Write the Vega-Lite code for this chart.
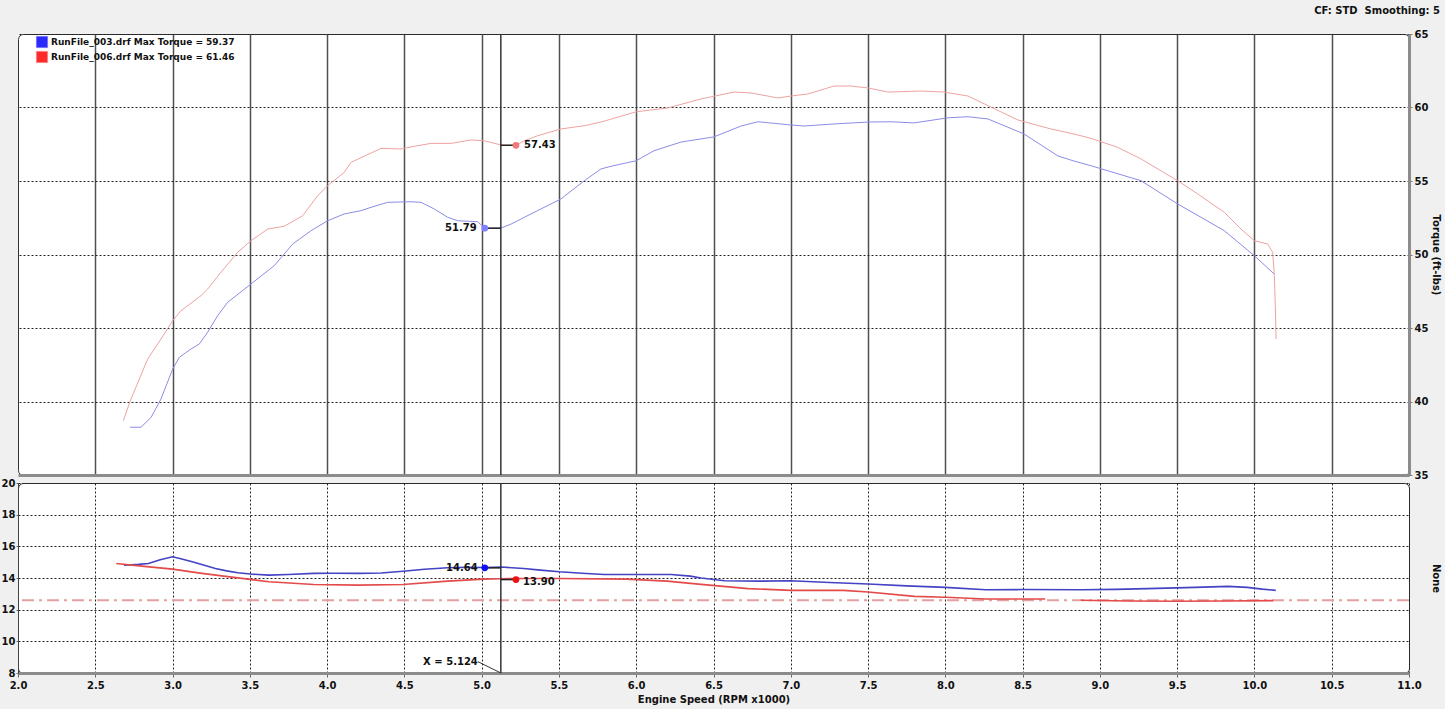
{
  "$schema": "https://vega.github.io/schema/vega-lite/v6.json",
  "background": "#f0f0f0",
  "padding": {"left": 0, "top": 5, "right": 4, "bottom": 4},
  "spacing": 8,
  "bounds": "flush",
  "config": {
    "font": "DejaVu Sans",
    "view": {"fill": "white", "stroke": "#333333", "strokeWidth": 1, "cornerRadius": 5},
    "axis": {"labelFlush": false, "labelFont": "DejaVu Sans", "labelFontWeight": "bold", "labelFontSize": 10, "labelColor": "#111111", "titleFont": "DejaVu Sans", "titleFontWeight": "bold", "titleFontSize": 10, "titleColor": "#111111"}
  },
  "resolve": {"scale": {"color": "independent"}, "legend": {"color": "independent"}},
  "datasets": {
    "torque": [
      {"run": "RunFile_003.drf Max Torque = 59.37", "rpm": 2.725, "tq": 38.25},
      {"run": "RunFile_003.drf Max Torque = 59.37", "rpm": 2.796, "tq": 38.25},
      {"run": "RunFile_003.drf Max Torque = 59.37", "rpm": 2.861, "tq": 38.92},
      {"run": "RunFile_003.drf Max Torque = 59.37", "rpm": 2.925, "tq": 40.17},
      {"run": "RunFile_003.drf Max Torque = 59.37", "rpm": 3.001, "tq": 42.21},
      {"run": "RunFile_003.drf Max Torque = 59.37", "rpm": 3.044, "tq": 43.01},
      {"run": "RunFile_003.drf Max Torque = 59.37", "rpm": 3.119, "tq": 43.57},
      {"run": "RunFile_003.drf Max Torque = 59.37", "rpm": 3.173, "tq": 43.91},
      {"run": "RunFile_003.drf Max Torque = 59.37", "rpm": 3.227, "tq": 44.71},
      {"run": "RunFile_003.drf Max Torque = 59.37", "rpm": 3.292, "tq": 45.84},
      {"run": "RunFile_003.drf Max Torque = 59.37", "rpm": 3.357, "tq": 46.75},
      {"run": "RunFile_003.drf Max Torque = 59.37", "rpm": 3.508, "tq": 48.0},
      {"run": "RunFile_003.drf Max Torque = 59.37", "rpm": 3.658, "tq": 49.24},
      {"run": "RunFile_003.drf Max Torque = 59.37", "rpm": 3.777, "tq": 50.71},
      {"run": "RunFile_003.drf Max Torque = 59.37", "rpm": 3.896, "tq": 51.62},
      {"run": "RunFile_003.drf Max Torque = 59.37", "rpm": 4.004, "tq": 52.3},
      {"run": "RunFile_003.drf Max Torque = 59.37", "rpm": 4.111, "tq": 52.76},
      {"run": "RunFile_003.drf Max Torque = 59.37", "rpm": 4.219, "tq": 52.98},
      {"run": "RunFile_003.drf Max Torque = 59.37", "rpm": 4.284, "tq": 53.21},
      {"run": "RunFile_003.drf Max Torque = 59.37", "rpm": 4.392, "tq": 53.55},
      {"run": "RunFile_003.drf Max Torque = 59.37", "rpm": 4.543, "tq": 53.59},
      {"run": "RunFile_003.drf Max Torque = 59.37", "rpm": 4.607, "tq": 53.55},
      {"run": "RunFile_003.drf Max Torque = 59.37", "rpm": 4.693, "tq": 53.1},
      {"run": "RunFile_003.drf Max Torque = 59.37", "rpm": 4.78, "tq": 52.53},
      {"run": "RunFile_003.drf Max Torque = 59.37", "rpm": 4.845, "tq": 52.3},
      {"run": "RunFile_003.drf Max Torque = 59.37", "rpm": 4.974, "tq": 52.23},
      {"run": "RunFile_003.drf Max Torque = 59.37", "rpm": 5.02, "tq": 51.79},
      {"run": "RunFile_003.drf Max Torque = 59.37", "rpm": 5.125, "tq": 51.8},
      {"run": "RunFile_003.drf Max Torque = 59.37", "rpm": 5.19, "tq": 52.07},
      {"run": "RunFile_003.drf Max Torque = 59.37", "rpm": 5.319, "tq": 52.76},
      {"run": "RunFile_003.drf Max Torque = 59.37", "rpm": 5.513, "tq": 53.78},
      {"run": "RunFile_003.drf Max Torque = 59.37", "rpm": 5.664, "tq": 55.02},
      {"run": "RunFile_003.drf Max Torque = 59.37", "rpm": 5.772, "tq": 55.82},
      {"run": "RunFile_003.drf Max Torque = 59.37", "rpm": 5.837, "tq": 56.0},
      {"run": "RunFile_003.drf Max Torque = 59.37", "rpm": 6.0, "tq": 56.38},
      {"run": "RunFile_003.drf Max Torque = 59.37", "rpm": 6.115, "tq": 57.06},
      {"run": "RunFile_003.drf Max Torque = 59.37", "rpm": 6.29, "tq": 57.65},
      {"run": "RunFile_003.drf Max Torque = 59.37", "rpm": 6.503, "tq": 58.0},
      {"run": "RunFile_003.drf Max Torque = 59.37", "rpm": 6.678, "tq": 58.74},
      {"run": "RunFile_003.drf Max Torque = 59.37", "rpm": 6.788, "tq": 59.03},
      {"run": "RunFile_003.drf Max Torque = 59.37", "rpm": 7.0, "tq": 58.81},
      {"run": "RunFile_003.drf Max Torque = 59.37", "rpm": 7.085, "tq": 58.74},
      {"run": "RunFile_003.drf Max Torque = 59.37", "rpm": 7.28, "tq": 58.88},
      {"run": "RunFile_003.drf Max Torque = 59.37", "rpm": 7.5, "tq": 59.01},
      {"run": "RunFile_003.drf Max Torque = 59.37", "rpm": 7.648, "tq": 59.03},
      {"run": "RunFile_003.drf Max Torque = 59.37", "rpm": 7.797, "tq": 58.95},
      {"run": "RunFile_003.drf Max Torque = 59.37", "rpm": 8.017, "tq": 59.3},
      {"run": "RunFile_003.drf Max Torque = 59.37", "rpm": 8.147, "tq": 59.37},
      {"run": "RunFile_003.drf Max Torque = 59.37", "rpm": 8.276, "tq": 59.22},
      {"run": "RunFile_003.drf Max Torque = 59.37", "rpm": 8.509, "tq": 58.2},
      {"run": "RunFile_003.drf Max Torque = 59.37", "rpm": 8.729, "tq": 56.7},
      {"run": "RunFile_003.drf Max Torque = 59.37", "rpm": 8.832, "tq": 56.36},
      {"run": "RunFile_003.drf Max Torque = 59.37", "rpm": 8.942, "tq": 56.04},
      {"run": "RunFile_003.drf Max Torque = 59.37", "rpm": 9.266, "tq": 55.02},
      {"run": "RunFile_003.drf Max Torque = 59.37", "rpm": 9.503, "tq": 53.44},
      {"run": "RunFile_003.drf Max Torque = 59.37", "rpm": 9.805, "tq": 51.62},
      {"run": "RunFile_003.drf Max Torque = 59.37", "rpm": 9.999, "tq": 49.92},
      {"run": "RunFile_003.drf Max Torque = 59.37", "rpm": 10.128, "tq": 48.67},
      {"run": "RunFile_006.drf Max Torque = 61.46", "rpm": 2.681, "tq": 38.69},
      {"run": "RunFile_006.drf Max Torque = 61.46", "rpm": 2.731, "tq": 40.17},
      {"run": "RunFile_006.drf Max Torque = 61.46", "rpm": 2.785, "tq": 41.53},
      {"run": "RunFile_006.drf Max Torque = 61.46", "rpm": 2.839, "tq": 42.89},
      {"run": "RunFile_006.drf Max Torque = 61.46", "rpm": 2.925, "tq": 44.25},
      {"run": "RunFile_006.drf Max Torque = 61.46", "rpm": 3.001, "tq": 45.5},
      {"run": "RunFile_006.drf Max Torque = 61.46", "rpm": 3.055, "tq": 46.18},
      {"run": "RunFile_006.drf Max Torque = 61.46", "rpm": 3.184, "tq": 47.2},
      {"run": "RunFile_006.drf Max Torque = 61.46", "rpm": 3.227, "tq": 47.65},
      {"run": "RunFile_006.drf Max Torque = 61.46", "rpm": 3.313, "tq": 48.79},
      {"run": "RunFile_006.drf Max Torque = 61.46", "rpm": 3.421, "tq": 50.15},
      {"run": "RunFile_006.drf Max Torque = 61.46", "rpm": 3.508, "tq": 50.94},
      {"run": "RunFile_006.drf Max Torque = 61.46", "rpm": 3.616, "tq": 51.73},
      {"run": "RunFile_006.drf Max Torque = 61.46", "rpm": 3.723, "tq": 51.92},
      {"run": "RunFile_006.drf Max Torque = 61.46", "rpm": 3.842, "tq": 52.64},
      {"run": "RunFile_006.drf Max Torque = 61.46", "rpm": 3.939, "tq": 54.0},
      {"run": "RunFile_006.drf Max Torque = 61.46", "rpm": 4.004, "tq": 54.68},
      {"run": "RunFile_006.drf Max Torque = 61.46", "rpm": 4.111, "tq": 55.59},
      {"run": "RunFile_006.drf Max Torque = 61.46", "rpm": 4.155, "tq": 56.27},
      {"run": "RunFile_006.drf Max Torque = 61.46", "rpm": 4.349, "tq": 57.22},
      {"run": "RunFile_006.drf Max Torque = 61.46", "rpm": 4.478, "tq": 57.18},
      {"run": "RunFile_006.drf Max Torque = 61.46", "rpm": 4.564, "tq": 57.36},
      {"run": "RunFile_006.drf Max Torque = 61.46", "rpm": 4.672, "tq": 57.56},
      {"run": "RunFile_006.drf Max Torque = 61.46", "rpm": 4.802, "tq": 57.56},
      {"run": "RunFile_006.drf Max Torque = 61.46", "rpm": 4.931, "tq": 57.79},
      {"run": "RunFile_006.drf Max Torque = 61.46", "rpm": 5.017, "tq": 57.74},
      {"run": "RunFile_006.drf Max Torque = 61.46", "rpm": 5.125, "tq": 57.45},
      {"run": "RunFile_006.drf Max Torque = 61.46", "rpm": 5.222, "tq": 57.43},
      {"run": "RunFile_006.drf Max Torque = 61.46", "rpm": 5.276, "tq": 57.74},
      {"run": "RunFile_006.drf Max Torque = 61.46", "rpm": 5.362, "tq": 58.08},
      {"run": "RunFile_006.drf Max Torque = 61.46", "rpm": 5.513, "tq": 58.54},
      {"run": "RunFile_006.drf Max Torque = 61.46", "rpm": 5.664, "tq": 58.76},
      {"run": "RunFile_006.drf Max Torque = 61.46", "rpm": 5.772, "tq": 59.01},
      {"run": "RunFile_006.drf Max Torque = 61.46", "rpm": 6.0, "tq": 59.71},
      {"run": "RunFile_006.drf Max Torque = 61.46", "rpm": 6.205, "tq": 59.97},
      {"run": "RunFile_006.drf Max Torque = 61.46", "rpm": 6.419, "tq": 60.58},
      {"run": "RunFile_006.drf Max Torque = 61.46", "rpm": 6.633, "tq": 61.05},
      {"run": "RunFile_006.drf Max Torque = 61.46", "rpm": 6.742, "tq": 60.99},
      {"run": "RunFile_006.drf Max Torque = 61.46", "rpm": 6.917, "tq": 60.65},
      {"run": "RunFile_006.drf Max Torque = 61.46", "rpm": 7.0, "tq": 60.78},
      {"run": "RunFile_006.drf Max Torque = 61.46", "rpm": 7.111, "tq": 60.92},
      {"run": "RunFile_006.drf Max Torque = 61.46", "rpm": 7.28, "tq": 61.46},
      {"run": "RunFile_006.drf Max Torque = 61.46", "rpm": 7.39, "tq": 61.46},
      {"run": "RunFile_006.drf Max Torque = 61.46", "rpm": 7.5, "tq": 61.33},
      {"run": "RunFile_006.drf Max Torque = 61.46", "rpm": 7.629, "tq": 61.05},
      {"run": "RunFile_006.drf Max Torque = 61.46", "rpm": 7.842, "tq": 61.12},
      {"run": "RunFile_006.drf Max Torque = 61.46", "rpm": 7.991, "tq": 61.05},
      {"run": "RunFile_006.drf Max Torque = 61.46", "rpm": 8.147, "tq": 60.78},
      {"run": "RunFile_006.drf Max Torque = 61.46", "rpm": 8.295, "tq": 60.03},
      {"run": "RunFile_006.drf Max Torque = 61.46", "rpm": 8.47, "tq": 59.15},
      {"run": "RunFile_006.drf Max Torque = 61.46", "rpm": 8.683, "tq": 58.54},
      {"run": "RunFile_006.drf Max Torque = 61.46", "rpm": 8.832, "tq": 58.2},
      {"run": "RunFile_006.drf Max Torque = 61.46", "rpm": 8.942, "tq": 57.9},
      {"run": "RunFile_006.drf Max Torque = 61.46", "rpm": 9.115, "tq": 57.29},
      {"run": "RunFile_006.drf Max Torque = 61.46", "rpm": 9.266, "tq": 56.5},
      {"run": "RunFile_006.drf Max Torque = 61.46", "rpm": 9.503, "tq": 55.02},
      {"run": "RunFile_006.drf Max Torque = 61.46", "rpm": 9.633, "tq": 54.12},
      {"run": "RunFile_006.drf Max Torque = 61.46", "rpm": 9.805, "tq": 52.87},
      {"run": "RunFile_006.drf Max Torque = 61.46", "rpm": 9.913, "tq": 51.73},
      {"run": "RunFile_006.drf Max Torque = 61.46", "rpm": 9.999, "tq": 50.94},
      {"run": "RunFile_006.drf Max Torque = 61.46", "rpm": 10.086, "tq": 50.71},
      {"run": "RunFile_006.drf Max Torque = 61.46", "rpm": 10.118, "tq": 50.15},
      {"run": "RunFile_006.drf Max Torque = 61.46", "rpm": 10.129, "tq": 48.56},
      {"run": "RunFile_006.drf Max Torque = 61.46", "rpm": 10.135, "tq": 46.52},
      {"run": "RunFile_006.drf Max Torque = 61.46", "rpm": 10.14, "tq": 44.25}
    ],
    "afr": [
      {"run": "003", "seg": 1, "rpm": 2.685, "afr": 14.81},
      {"run": "003", "seg": 1, "rpm": 2.78, "afr": 14.86},
      {"run": "003", "seg": 1, "rpm": 2.844, "afr": 14.92},
      {"run": "003", "seg": 1, "rpm": 2.92, "afr": 15.15},
      {"run": "003", "seg": 1, "rpm": 3.0, "afr": 15.34},
      {"run": "003", "seg": 1, "rpm": 3.06, "afr": 15.2},
      {"run": "003", "seg": 1, "rpm": 3.127, "afr": 15.03},
      {"run": "003", "seg": 1, "rpm": 3.2, "afr": 14.82},
      {"run": "003", "seg": 1, "rpm": 3.277, "afr": 14.6},
      {"run": "003", "seg": 1, "rpm": 3.35, "afr": 14.45},
      {"run": "003", "seg": 1, "rpm": 3.422, "afr": 14.33},
      {"run": "003", "seg": 1, "rpm": 3.52, "afr": 14.24},
      {"run": "003", "seg": 1, "rpm": 3.624, "afr": 14.18},
      {"run": "003", "seg": 1, "rpm": 3.75, "afr": 14.22},
      {"run": "003", "seg": 1, "rpm": 3.913, "afr": 14.29},
      {"run": "003", "seg": 1, "rpm": 4.05, "afr": 14.3},
      {"run": "003", "seg": 1, "rpm": 4.202, "afr": 14.29},
      {"run": "003", "seg": 1, "rpm": 4.35, "afr": 14.32},
      {"run": "003", "seg": 1, "rpm": 4.491, "afr": 14.43},
      {"run": "003", "seg": 1, "rpm": 4.63, "afr": 14.55},
      {"run": "003", "seg": 1, "rpm": 4.78, "afr": 14.65},
      {"run": "003", "seg": 1, "rpm": 4.9, "afr": 14.68},
      {"run": "003", "seg": 1, "rpm": 5.02, "afr": 14.66},
      {"run": "003", "seg": 1, "rpm": 5.127, "afr": 14.69},
      {"run": "003", "seg": 1, "rpm": 5.272, "afr": 14.6},
      {"run": "003", "seg": 1, "rpm": 5.38, "afr": 14.5},
      {"run": "003", "seg": 1, "rpm": 5.503, "afr": 14.39},
      {"run": "003", "seg": 1, "rpm": 5.65, "afr": 14.3},
      {"run": "003", "seg": 1, "rpm": 5.792, "afr": 14.22},
      {"run": "003", "seg": 1, "rpm": 6.0, "afr": 14.22},
      {"run": "003", "seg": 1, "rpm": 6.225, "afr": 14.22},
      {"run": "003", "seg": 1, "rpm": 6.35, "afr": 14.12},
      {"run": "003", "seg": 1, "rpm": 6.42, "afr": 14.0},
      {"run": "003", "seg": 1, "rpm": 6.571, "afr": 13.83},
      {"run": "003", "seg": 1, "rpm": 6.8, "afr": 13.8},
      {"run": "003", "seg": 1, "rpm": 7.0, "afr": 13.83},
      {"run": "003", "seg": 1, "rpm": 7.25, "afr": 13.72},
      {"run": "003", "seg": 1, "rpm": 7.5, "afr": 13.62},
      {"run": "003", "seg": 1, "rpm": 7.75, "afr": 13.5},
      {"run": "003", "seg": 1, "rpm": 8.0, "afr": 13.41},
      {"run": "003", "seg": 1, "rpm": 8.262, "afr": 13.26},
      {"run": "003", "seg": 1, "rpm": 8.5, "afr": 13.27},
      {"run": "003", "seg": 1, "rpm": 8.877, "afr": 13.26},
      {"run": "003", "seg": 1, "rpm": 9.1, "afr": 13.28},
      {"run": "003", "seg": 1, "rpm": 9.307, "afr": 13.33},
      {"run": "003", "seg": 1, "rpm": 9.615, "afr": 13.41},
      {"run": "003", "seg": 1, "rpm": 9.83, "afr": 13.47},
      {"run": "003", "seg": 1, "rpm": 9.953, "afr": 13.41},
      {"run": "003", "seg": 1, "rpm": 10.05, "afr": 13.3},
      {"run": "003", "seg": 1, "rpm": 10.138, "afr": 13.22},
      {"run": "006", "seg": 1, "rpm": 2.636, "afr": 14.92},
      {"run": "006", "seg": 1, "rpm": 2.8, "afr": 14.75},
      {"run": "006", "seg": 1, "rpm": 3.0, "afr": 14.56},
      {"run": "006", "seg": 1, "rpm": 3.19, "afr": 14.29},
      {"run": "006", "seg": 1, "rpm": 3.422, "afr": 14.01},
      {"run": "006", "seg": 1, "rpm": 3.624, "afr": 13.76},
      {"run": "006", "seg": 1, "rpm": 3.913, "afr": 13.59},
      {"run": "006", "seg": 1, "rpm": 4.202, "afr": 13.55},
      {"run": "006", "seg": 1, "rpm": 4.491, "afr": 13.59},
      {"run": "006", "seg": 1, "rpm": 4.78, "afr": 13.8},
      {"run": "006", "seg": 1, "rpm": 5.012, "afr": 13.93},
      {"run": "006", "seg": 1, "rpm": 5.124, "afr": 13.95},
      {"run": "006", "seg": 1, "rpm": 5.228, "afr": 13.97},
      {"run": "006", "seg": 1, "rpm": 5.503, "afr": 13.97},
      {"run": "006", "seg": 1, "rpm": 5.936, "afr": 13.93},
      {"run": "006", "seg": 1, "rpm": 6.2, "afr": 13.8},
      {"run": "006", "seg": 1, "rpm": 6.42, "afr": 13.6},
      {"run": "006", "seg": 1, "rpm": 6.724, "afr": 13.33},
      {"run": "006", "seg": 1, "rpm": 7.0, "afr": 13.22},
      {"run": "006", "seg": 1, "rpm": 7.339, "afr": 13.22},
      {"run": "006", "seg": 1, "rpm": 7.5, "afr": 13.12},
      {"run": "006", "seg": 1, "rpm": 7.801, "afr": 12.84},
      {"run": "006", "seg": 1, "rpm": 8.0, "afr": 12.78},
      {"run": "006", "seg": 1, "rpm": 8.262, "afr": 12.67},
      {"run": "006", "seg": 1, "rpm": 8.646, "afr": 12.67},
      {"run": "006", "seg": 2, "rpm": 8.877, "afr": 12.59},
      {"run": "006", "seg": 2, "rpm": 9.2, "afr": 12.55},
      {"run": "006", "seg": 2, "rpm": 9.492, "afr": 12.53},
      {"run": "006", "seg": 2, "rpm": 9.8, "afr": 12.55},
      {"run": "006", "seg": 2, "rpm": 10.122, "afr": 12.57}
    ],
    "markers": [
      {"panel": "top", "run": "003", "rpm": 5.02, "value": 51.79, "label": "51.79", "cursor": 5.124},
      {"panel": "top", "run": "006", "rpm": 5.222, "value": 57.43, "label": "57.43", "cursor": 5.124},
      {"panel": "bottom", "run": "003", "rpm": 5.02, "value": 14.64, "label": "14.64", "cursor": 5.124},
      {"panel": "bottom", "run": "006", "rpm": 5.222, "value": 13.9, "label": "13.90", "cursor": 5.124}
    ],
    "cursor": [
      {"cursor": 5.124, "label": "X = 5.124", "lx": 4.975, "ly": 8.72, "lx2": 5.124, "ly2": 8.0, "tx": 4.975, "ty": 8.72}
    ],
    "ref": [
      {"afr": 12.6}
    ]
  },
  "vconcat": [
    {
      "width": 1391,
      "height": 441,
      "title": {"text": "CF: STD\u00a0 Smoothing: 5", "anchor": "end", "frame": "bounds", "fontSize": 10, "fontWeight": "bold", "font": "DejaVu Sans", "color": "#111111", "offset": 13},
      "layer": [
        {
          "data": {"name": "torque"},
          "mark": {"type": "line", "strokeWidth": 1},
          "encoding": {
            "x": {"field": "rpm", "type": "quantitative", "scale": {"domain": [2, 11], "nice": false, "zero": false},
              "axis": {"values": [2.5, 3, 3.5, 4, 4.5, 5, 5.5, 6, 6.5, 7, 7.5, 8, 8.5, 9, 9.5, 10, 10.5], "labels": false, "ticks": false, "domain": true, "domainColor": "#8c8c8c", "domainWidth": 3, "grid": true, "gridColor": "#505050", "gridWidth": 1.5, "gridOpacity": 1, "title": null, "minExtent": 0, "maxExtent": 0}},
            "y": {"field": "tq", "type": "quantitative", "scale": {"domain": [35, 65], "nice": false, "zero": false},
              "axis": {"orient": "right", "values": [35, 40, 45, 50, 55, 60, 65], "grid": true, "gridDash": [2, 2], "gridColor": "#222222", "gridOpacity": 1, "tickSize": 3, "tickColor": "#777777", "labelPadding": 2, "domain": true, "domainColor": "#8c8c8c", "domainWidth": 3, "title": "Torque (ft-lbs)", "titlePadding": 2, "minExtent": 19, "maxExtent": 19}},
            "color": {"field": "run", "type": "nominal",
              "scale": {"domain": ["RunFile_003.drf Max Torque = 59.37", "RunFile_006.drf Max Torque = 61.46"], "range": ["#8c8ce6", "#eda3a3"]},
              "legend": {"orient": "none", "legendX": 18, "legendY": 2, "title": null, "symbolType": "square", "symbolSize": 130, "padding": 0, "rowPadding": 1, "labelOffset": 3, "labelLimit": 0, "labelFont": "DejaVu Sans", "labelFontWeight": "bold", "labelFontSize": 9, "labelColor": "#111111",
                "encode": {"symbols": {"update": {"fill": {"signal": "indexof(datum.value, '003') >= 0 ? '#2a2aff' : '#ff2a2a'"}, "fillOpacity": {"value": 1}, "stroke": {"value": "#555555"}, "strokeWidth": {"value": 0.5}}}}}}
          }
        },
        {
          "data": {"name": "cursor"},
          "mark": {"type": "rule", "color": "#333333", "strokeWidth": 1.5},
          "encoding": {"x": {"field": "cursor", "type": "quantitative"}}
        },
        {
          "data": {"name": "markers"},
          "transform": [{"filter": "datum.panel === 'top'"}],
          "mark": {"type": "rule", "color": "#222222", "strokeWidth": 1.5},
          "encoding": {
            "x": {"field": "rpm", "type": "quantitative"},
            "x2": {"field": "cursor"},
            "y": {"field": "value", "type": "quantitative", "axis": {"orient": "left", "labels": false, "ticks": false, "domain": false, "grid": false, "title": null, "minExtent": 17, "maxExtent": 17}}
          }
        },
        {
          "data": {"name": "markers"},
          "transform": [{"filter": "datum.panel === 'top'"}],
          "mark": {"type": "circle", "size": 45, "opacity": 1},
          "encoding": {
            "x": {"field": "rpm", "type": "quantitative"},
            "y": {"field": "value", "type": "quantitative", "axis": null},
            "fill": {"condition": {"test": "datum.run === '003'", "value": "#8080ff"}, "value": "#f07878"}
          }
        },
        {
          "data": {"name": "markers"},
          "transform": [{"filter": "datum.panel === 'top' && datum.run === '003'"}],
          "mark": {"type": "text", "align": "right", "baseline": "middle", "dx": -8, "fontSize": 10, "fontWeight": "bold", "font": "DejaVu Sans", "color": "#111111"},
          "encoding": {
            "x": {"field": "rpm", "type": "quantitative"},
            "y": {"field": "value", "type": "quantitative", "axis": null},
            "text": {"field": "label"}
          }
        },
        {
          "data": {"name": "markers"},
          "transform": [{"filter": "datum.panel === 'top' && datum.run === '006'"}],
          "mark": {"type": "text", "align": "left", "baseline": "middle", "dx": 8, "fontSize": 10, "fontWeight": "bold", "font": "DejaVu Sans", "color": "#111111"},
          "encoding": {
            "x": {"field": "rpm", "type": "quantitative"},
            "y": {"field": "value", "type": "quantitative", "axis": null},
            "text": {"field": "label"}
          }
        }
      ],
      "resolve": {"axis": {"y": "independent"}}
    },
    {
      "width": 1391,
      "height": 190,
      "layer": [
        {
          "data": {"name": "ref"},
          "mark": {"type": "rule", "color": "#e4a0a0", "strokeWidth": 2, "strokeDash": [12, 5, 3, 5]},
          "encoding": {
            "y": {"field": "afr", "type": "quantitative", "scale": {"domain": [8, 20], "nice": false, "zero": false},
              "axis": {"orient": "right", "labels": false, "ticks": false, "domain": false, "grid": false, "title": "None", "titlePadding": 2, "minExtent": 19, "maxExtent": 19}}
          }
        },
        {
          "data": {"name": "afr"},
          "mark": {"type": "line", "strokeWidth": 1.6},
          "encoding": {
            "x": {"field": "rpm", "type": "quantitative", "scale": {"domain": [2, 11], "nice": false, "zero": false},
              "axis": {"values": [2, 2.5, 3, 3.5, 4, 4.5, 5, 5.5, 6, 6.5, 7, 7.5, 8, 8.5, 9, 9.5, 10, 10.5, 11], "format": ".1f", "labelFlush": false, "grid": true, "gridDash": [2, 2], "gridColor": "#222222", "gridOpacity": 1, "tickSize": 4, "tickColor": "#666666", "labelPadding": 3, "domain": true, "domainColor": "#8c8c8c", "domainWidth": 3, "title": "Engine Speed (RPM x1000)", "titlePadding": 4}},
            "y": {"field": "afr", "type": "quantitative",
              "axis": {"orient": "left", "values": [8, 10, 12, 14, 16, 18, 20], "labelFlush": false, "grid": true, "gridDash": [2, 2], "gridColor": "#222222", "gridOpacity": 1, "tickSize": 2, "tickColor": "#666666", "labelPadding": 1, "domain": true, "domainColor": "#444444", "title": null, "minExtent": 17, "maxExtent": 17}},
            "color": {"field": "run", "type": "nominal", "scale": {"domain": ["003", "006"], "range": ["#4343c4", "#e44a4a"]}, "legend": null},
            "detail": {"field": "seg"}
          }
        },
        {
          "data": {"name": "cursor"},
          "mark": {"type": "rule", "color": "#333333", "strokeWidth": 1.5},
          "encoding": {"x": {"field": "cursor", "type": "quantitative"}}
        },
        {
          "data": {"name": "cursor"},
          "mark": {"type": "rule", "color": "#333333", "strokeWidth": 1},
          "encoding": {
            "x": {"field": "lx", "type": "quantitative"},
            "y": {"field": "ly", "type": "quantitative", "axis": null},
            "x2": {"field": "lx2"},
            "y2": {"field": "ly2"}
          }
        },
        {
          "data": {"name": "cursor"},
          "mark": {"type": "text", "align": "right", "baseline": "middle", "fontSize": 10, "fontWeight": "bold", "font": "DejaVu Sans", "color": "#111111"},
          "encoding": {
            "x": {"field": "tx", "type": "quantitative"},
            "y": {"field": "ty", "type": "quantitative", "axis": null},
            "text": {"field": "label"}
          }
        },
        {
          "data": {"name": "markers"},
          "transform": [{"filter": "datum.panel === 'bottom'"}],
          "mark": {"type": "rule", "color": "#222222", "strokeWidth": 1.5},
          "encoding": {
            "x": {"field": "rpm", "type": "quantitative"},
            "x2": {"field": "cursor"},
            "y": {"field": "value", "type": "quantitative", "axis": null}
          }
        },
        {
          "data": {"name": "markers"},
          "transform": [{"filter": "datum.panel === 'bottom'"}],
          "mark": {"type": "circle", "size": 45, "opacity": 1},
          "encoding": {
            "x": {"field": "rpm", "type": "quantitative"},
            "y": {"field": "value", "type": "quantitative", "axis": null},
            "fill": {"condition": {"test": "datum.run === '003'", "value": "#1010f0"}, "value": "#f01010"}
          }
        },
        {
          "data": {"name": "markers"},
          "transform": [{"filter": "datum.panel === 'bottom' && datum.run === '003'"}],
          "mark": {"type": "text", "align": "right", "baseline": "middle", "dx": -7, "fontSize": 10, "fontWeight": "bold", "font": "DejaVu Sans", "color": "#111111"},
          "encoding": {
            "x": {"field": "rpm", "type": "quantitative"},
            "y": {"field": "value", "type": "quantitative", "axis": null},
            "text": {"field": "label"}
          }
        },
        {
          "data": {"name": "markers"},
          "transform": [{"filter": "datum.panel === 'bottom' && datum.run === '006'"}],
          "mark": {"type": "text", "align": "left", "baseline": "middle", "dx": 7, "dy": 2, "fontSize": 10, "fontWeight": "bold", "font": "DejaVu Sans", "color": "#111111"},
          "encoding": {
            "x": {"field": "rpm", "type": "quantitative"},
            "y": {"field": "value", "type": "quantitative", "axis": null},
            "text": {"field": "label"}
          }
        }
      ],
      "resolve": {"axis": {"y": "independent"}}
    }
  ]
}
